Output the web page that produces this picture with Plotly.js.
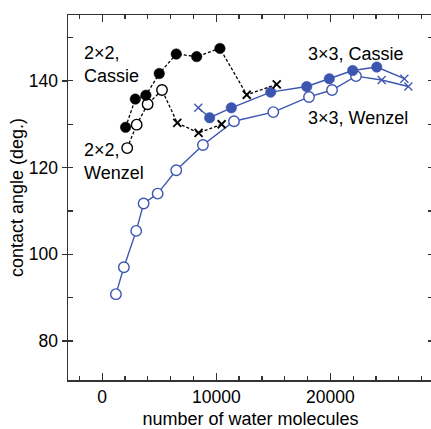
<!DOCTYPE html>
<html>
<head>
<meta charset="utf-8">
<script src="https://cdn.plot.ly/plotly-3.0.1.min.js"></script>
<style>
html, body { margin: 0; padding: 0; overflow: hidden; background: #fff; }
#chart { width: 434px; height: 429px; }
</style>
</head>
<body>
<div id="chart"></div>
<script>
// ---- data ----
// 2x2 Cassie (filled black circles) and its crosses
const cas2_x = [2050, 2900, 3830, 5000, 6490, 8280, 10320];
const cas2_y = [129.3, 135.8, 136.7, 141.7, 146.2, 145.6, 147.5];
const cas2_cross_x = [12670, 15300];
const cas2_cross_y = [136.8, 139.2];
// 2x2 Wenzel (open black circles) and its crosses
const wen2_x = [2190, 3020, 3980, 5240];
const wen2_y = [124.5, 129.9, 134.6, 137.9];
const wen2_cross_x = [6580, 8450, 10470];
const wen2_cross_y = [130.3, 128.0, 130.0];
// 3x3 Cassie (filled blue circles) and its crosses
const cas3_x = [9420, 11320, 14770, 17930, 19910, 21960, 24070];
const cas3_y = [131.5, 133.8, 137.4, 138.7, 140.5, 142.4, 143.2];
const cas3_cross_x = [8420, 26490];
const cas3_cross_y = [133.8, 140.5];
// 3x3 Wenzel (open blue circles) and its crosses
const wen3_x = [1200, 1900, 2980, 3630, 4860, 6490, 8830, 11550, 15000, 18130, 20150, 22250];
const wen3_y = [90.8, 97.0, 105.4, 111.7, 114.0, 119.4, 125.2, 130.7, 132.8, 136.3, 137.9, 141.1];
const wen3_cross_x = [24500, 26840];
const wen3_cross_y = [140.2, 138.7];

const labels = ["2×2,<br>Cassie", "2×2,<br>Wenzel", "3×3, Cassie", "3×3, Wenzel"];
const xTitle = "number of water molecules";
const yTitle = "contact angle (deg.)";

// ---- styles ----
const BLUE = "rgb(60,86,176)";
const BLACK = "#000";
const FONT = "Liberation Sans, Arial, sans-serif";

function merged(xa, ya, xb, yb) {
  const pts = xa.map((v, i) => [v, ya[i]]).concat(xb.map((v, i) => [v, yb[i]]));
  pts.sort((a, b) => a[0] - b[0]);
  return { x: pts.map(p => p[0]), y: pts.map(p => p[1]) };
}

function series(cx, cy, xx, xy, color, filled, dashed) {
  const m = merged(cx, cy, xx, xy);
  return [
    { x: m.x, y: m.y, mode: "lines", hoverinfo: "skip",
      line: { color: color, width: dashed ? 1.3 : 1.4, dash: dashed ? "3px,2px" : "solid" } },
    { x: cx, y: cy, mode: "markers",
      marker: { symbol: "circle", size: 10.5, color: filled ? color : "#fff",
                line: { color: color, width: filled ? 0.5 : 1.4 } } },
    { x: xx, y: xy, mode: "markers",
      marker: { symbol: "x-thin-open", size: 8, color: color,
                line: { color: color, width: dashed ? 1.8 : 1.3 } } }
  ];
}

const data = [].concat(
  series(wen3_x, wen3_y, wen3_cross_x, wen3_cross_y, BLUE, false, false),
  series(cas3_x, cas3_y, cas3_cross_x, cas3_cross_y, BLUE, true, false),
  series(wen2_x, wen2_y, wen2_cross_x, wen2_cross_y, BLACK, false, true),
  series(cas2_x, cas2_y, cas2_cross_x, cas2_cross_y, BLACK, true, true)
);

const TXT = "#000";
const annFont = { family: FONT, size: 18, color: TXT };
const layout = {
  width: 434, height: 429,
  margin: { l: 68, r: 1, t: 15, b: 49 },
  paper_bgcolor: "#fff", plot_bgcolor: "#fff",
  showlegend: false,
  font: { family: FONT, size: 18, color: TXT },
  xaxis: {
    range: [-3000, 29000], tick0: 0, dtick: 10000, tickformat: "d",
    ticks: "inside", ticklen: 7, tickwidth: 1.3, tickcolor: "#333",
    minor: { tick0: 0, dtick: 2000, ticks: "inside", ticklen: 4, tickwidth: 1.2, tickcolor: "#333" },
    showline: true, linecolor: "#333", linewidth: 1.5, mirror: "allticks",
    showgrid: false, zeroline: false,
    tickfont: { family: FONT, size: 17.5, color: TXT },
    title: { text: xTitle, font: { family: FONT, size: 18, color: TXT }, standoff: 8 }
  },
  yaxis: {
    range: [71, 155.2], tick0: 0, dtick: 20,
    ticks: "outside", ticklen: 5, tickwidth: 1.3, tickcolor: "#333",
    minor: { tick0: 0, dtick: 10, ticks: "inside", ticklen: 5, tickwidth: 1.2, tickcolor: "#333" },
    showline: true, linecolor: "#333", linewidth: 1.5, mirror: "allticks",
    showgrid: false, zeroline: false,
    tickfont: { family: FONT, size: 17.5, color: TXT },
    title: { text: yTitle, font: { family: FONT, size: 18, color: TXT }, standoff: 0 }
  },
  annotations: [
    { text: labels[0], x: -1800, y: 143.7, xref: "x", yref: "y", xanchor: "left", yanchor: "middle", align: "left", showarrow: false, font: annFont },
    { text: labels[1], x: -1800, y: 121.3, xref: "x", yref: "y", xanchor: "left", yanchor: "middle", align: "left", showarrow: false, font: annFont },
    { text: labels[2], x: 17900, y: 146.2, xref: "x", yref: "y", xanchor: "left", yanchor: "middle", align: "left", showarrow: false, font: annFont },
    { text: labels[3], x: 17900, y: 131.5, xref: "x", yref: "y", xanchor: "left", yanchor: "middle", align: "left", showarrow: false, font: annFont }
  ]
};

Plotly.newPlot("chart", data, layout, { displayModeBar: false, staticPlot: true });
</script>
</body>
</html>
